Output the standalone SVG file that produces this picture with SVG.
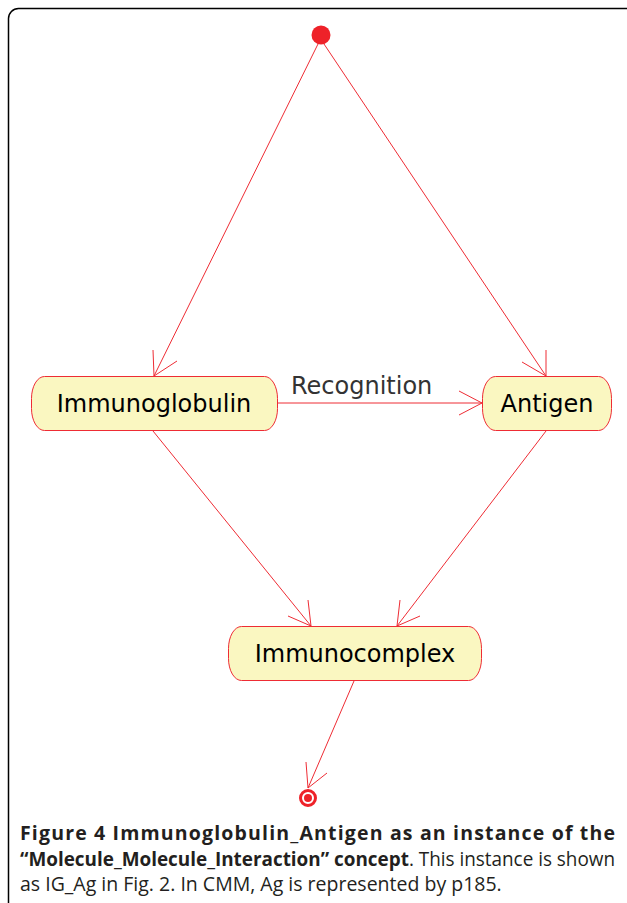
<svg xmlns="http://www.w3.org/2000/svg" width="627" height="903" viewBox="0 0 627 903">
<style>
.node rect{fill:#FAF7C1;stroke:#EE2C34;stroke-width:1}
.node text{font-family:"DejaVu Sans",sans-serif;font-size:24px;fill:#000;text-anchor:middle}
.edge{stroke:#EE2C34;stroke-width:1;fill:none}
.cap{font-family:"Open Sans","Noto Sans",sans-serif;font-size:19.5px;fill:#231F20}
.b{font-weight:bold}
</style>
<rect x="8.5" y="8.5" width="640" height="920" rx="10" fill="#fff" stroke="#000" stroke-width="1.5"/>
<g id="start"><circle cx="321" cy="35" r="9.5" fill="#EE2229"/></g>
<g id="immunoglobulin" class="node"><rect x="31.5" y="376.5" width="246" height="54" rx="13" ry="22"/><text x="154" y="412">Immunoglobulin</text></g>
<g id="antigen" class="node"><rect x="482.5" y="376.5" width="129" height="54" rx="13" ry="22"/><text x="547" y="412">Antigen</text></g>
<g id="immunocomplex" class="node"><rect x="228.5" y="626.5" width="253" height="54" rx="13" ry="22"/><text x="355" y="662">Immunocomplex</text></g>
<g id="end"><circle cx="308" cy="798" r="7.5" fill="none" stroke="#EE2229" stroke-width="3"/><circle cx="308" cy="798" r="4" fill="#EE2229"/></g>
<g id="connectors">
<path class="edge" d="M318 44 L154 376 M154 376 L153 350 M154 376 L177 361"/>
<path class="edge" d="M324 44 L546 376 M546 376 L546 350 M546 376 L522 362"/>
<path class="edge" d="M278 403 L482 403 M482 403 L459 391 M482 403 L459 415"/>
<path class="edge" d="M153 431 L311 626 M311 626 L288 616 M311 626 L308 600"/>
<path class="edge" d="M546 431 L397 626 M397 626 L400 600 M397 626 L420 616"/>
<path class="edge" d="M354 681 L308 788 M308 788 L306 762 M308 788 L327 773"/>
<text x="291" y="394" style="font-family:'DejaVu Sans',sans-serif;font-size:24px;fill:#333">Recognition</text>
</g>
<text class="cap b" x="20" y="840" textLength="595" lengthAdjust="spacing">Figure 4 Immunoglobulin_Antigen as an instance of the</text>
<text class="cap" x="20" y="866" textLength="595" lengthAdjust="spacingAndGlyphs"><tspan class="b">“Molecule_Molecule_Interaction” concept</tspan>. This instance is shown</text>
<text class="cap" x="20" y="891">as IG_Ag in Fig. 2. In CMM, Ag is represented by p185.</text>
</svg>
